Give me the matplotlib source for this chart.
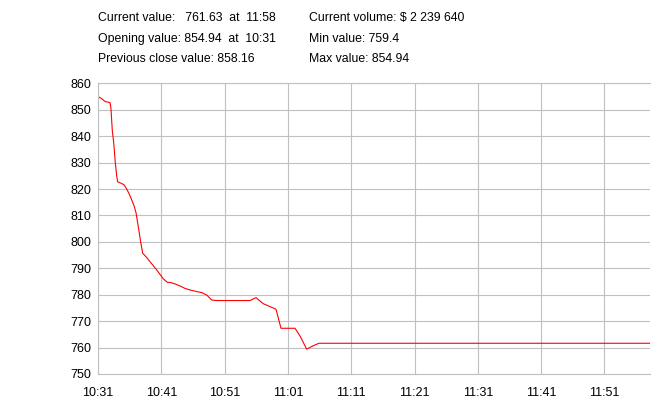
import matplotlib
matplotlib.use("Agg")
import matplotlib.pyplot as plt
from matplotlib.ticker import FixedLocator

plt.rcParams['font.family'] = ['Liberation Sans', 'DejaVu Sans']

# minutes since 10:31
minutes = [0.0, 0.58, 1.11, 1.90, 2.05, 2.26, 2.48, 2.73, 2.95, 3.11, 3.74, 4.15,
           4.53, 4.94, 5.32, 5.69, 6.0, 6.43, 6.75, 7.06, 7.69, 8.21, 9.27, 10.32,
           10.95, 11.48, 12.16, 12.95, 13.74, 14.53, 15.59, 16.38, 17.17, 17.96,
           18.75, 24.0, 24.96, 26.11, 27.17, 28.12, 28.91, 31.12, 31.91, 32.97,
           34.0, 34.91, 87.2]
values = [854.94, 854.2, 853.1, 852.7, 850.4, 842.0, 837.6, 830.0, 825.0, 822.7,
          822.1, 821.5, 820.0, 818.1, 815.9, 813.7, 811.1, 804.8, 799.8, 795.7,
          794.1, 792.5, 789.4, 786.0, 784.7, 784.6, 784.1, 783.3, 782.4, 781.8,
          781.2, 780.8, 779.9, 778.0, 777.8, 777.8, 778.9, 776.6, 775.5, 774.5,
          767.3, 767.3, 764.4, 759.4, 760.7, 761.63, 761.63]

x_tick_pos = [0, 10, 20, 30, 40, 50, 60, 70, 80]
x_tick_labels = ["10:31", "10:41", "10:51", "11:01", "11:11", "11:21", "11:31", "11:41", "11:51"]
y_ticks = [750, 760, 770, 780, 790, 800, 810, 820, 830, 840, 850, 860]

header_left = ["Current value:   761.63  at  11:58",
               "Opening value: 854.94  at  10:31",
               "Previous close value: 858.16"]
header_right = ["Current volume: $ 2 239 640",
                "Min value: 759.4",
                "Max value: 854.94"]

fig = plt.figure(figsize=(6.7, 4.05), dpi=100)
ax = fig.add_axes([98/670, 1-374/405, (650-98)/670, (374-83.3)/405])

grid_c = '#c0c0c0'
ax.plot(minutes, values, color='#ff0000', linewidth=0.8)
ax.set_xlim(0, 87.2)
ax.set_ylim(750, 860)
ax.xaxis.set_major_locator(FixedLocator(x_tick_pos))
ax.set_xticklabels(x_tick_labels)
ax.set_yticks(y_ticks)
ax.grid(True, color=grid_c, linewidth=0.8)
ax.tick_params(length=0, labelsize=9, colors='black')
ax.tick_params(axis='y', pad=5)
ax.tick_params(axis='x', pad=9)
for s in ['left', 'bottom', 'top']:
    ax.spines[s].set_color(grid_c)
    ax.spines[s].set_linewidth(0.8)
ax.spines['right'].set_visible(False)
ax.set_axisbelow(True)

rows_y = [18, 39, 59]
for t, yy in zip(header_left, rows_y):
    fig.text(98/670, 1-yy/405, t, fontsize=8.8, va='center', ha='left')
for t, yy in zip(header_right, rows_y):
    fig.text(309/670, 1-yy/405, t, fontsize=8.8, va='center', ha='left')

fig.savefig("out.png", dpi=100)
